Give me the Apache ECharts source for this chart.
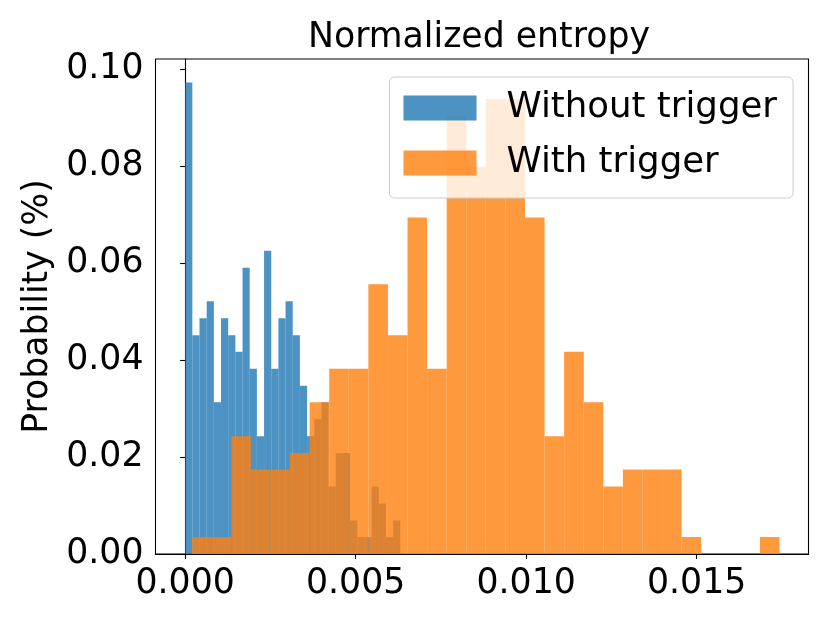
<!DOCTYPE html>
<html>
<head>
<meta charset="utf-8">
<script src="https://cdn.jsdelivr.net/npm/echarts@6/dist/echarts.min.js"></script>
<style>
  html, body { margin: 0; padding: 0; background: #fff; }
  #chart { width: 830px; height: 623px; }
</style>
</head>
<body>
<div id="chart"></div>
<script>
// histogram values (probability per bin, 30 bins each)
const withoutTrigger = [0.0972, 0.0451, 0.0486, 0.0521, 0.0313, 0.0486, 0.0451, 0.0417, 0.0590, 0.0382,
                        0.0243, 0.0625, 0.0382, 0.0486, 0.0521, 0.0451, 0.0347, 0.0243, 0.0278, 0.0313,
                        0.0139, 0.0208, 0.0208, 0.0069, 0.0035, 0.0035, 0.0139, 0.0104, 0.0035, 0.0069];
const withTrigger = [0.0035, 0.0035, 0.0243, 0.0174, 0.0174, 0.0208, 0.0313, 0.0382, 0.0382, 0.0556,
                     0.0451, 0.0694, 0.0382, 0.0903, 0.0799, 0.0938, 0.0938, 0.0694, 0.0243, 0.0417,
                     0.0313, 0.0139, 0.0174, 0.0174, 0.0174, 0.0035, 0, 0, 0, 0.0035];
// range covered by the bins of each histogram
const withoutRange = [0, 0.00631];
const withRange = [0.000205, 0.01743];
const xTicks = [0, 0.005, 0.010, 0.015];
const yTicks = [0, 0.02, 0.04, 0.06, 0.08, 0.10];
const seriesNames = ['Without trigger', 'With trigger'];
const colors = ['#1f77b4', '#ff7f0e'];

const FONT = 'DejaVu Sans';
const FS = 34.7;

function toBins(values, range) {
  const w = (range[1] - range[0]) / values.length;
  return values.map((v, i) => [range[0] + i * w, range[0] + (i + 1) * w, v]);
}

function histItem(params, api) {
  const top = api.coord([api.value(0), api.value(2)]);
  const bottom = api.coord([api.value(1), 0]);
  return {
    type: 'rect',
    shape: { x: top[0], y: top[1], width: bottom[0] - top[0], height: bottom[1] - top[1] },
    style: { fill: colors[params.seriesIndex], opacity: 0.8 }
  };
}

const chart = echarts.init(document.getElementById('chart'));
chart.setOption({
  animation: false,
  backgroundColor: '#fff',
  graphic: [{
    type: 'text', left: 482 - 174, top: 20,
    style: { text: 'Normalized entropy', fontFamily: FONT, fontSize: FS, fill: '#000' }
  }],
  grid: { left: 155.5, right: 21.5, top: 59, bottom: 69, show: true, borderColor: '#000', borderWidth: 1.1 },
  legend: {
    orient: 'vertical', right: 37, top: 77,
    icon: 'rect', itemWidth: 73, itemHeight: 25, itemGap: 19,
    padding: [13, 16, 17, 14],
    backgroundColor: 'rgba(255,255,255,0.8)', borderColor: '#cccccc', borderWidth: 1, borderRadius: 5,
    textStyle: { fontFamily: FONT, fontSize: 35.6, color: '#000', padding: [0, 0, 0, 25] },
    data: seriesNames
  },
  xAxis: {
    type: 'value', min: -0.00087, max: 0.01828,
    splitLine: { show: false },
    axisLine: { lineStyle: { color: '#000', width: 1.1 } },
    axisTick: { customValues: xTicks, length: 5, lineStyle: { color: '#000', width: 1.1 } },
    axisLabel: { customValues: xTicks, margin: 12, fontFamily: FONT, fontSize: FS, color: '#000',
                 formatter: v => v.toFixed(3) }
  },
  yAxis: {
    type: 'value', min: 0, max: 0.10206,
    name: 'Probability (%)', nameLocation: 'middle', nameGap: 100,
    nameTextStyle: { fontFamily: FONT, fontSize: FS, color: '#000' },
    splitLine: { show: false },
    axisLine: { lineStyle: { color: '#000', width: 1.1 } },
    axisTick: { customValues: yTicks, length: 5, lineStyle: { color: '#000', width: 1.1 } },
    axisLabel: { customValues: yTicks, margin: 12, fontFamily: FONT, fontSize: FS, color: '#000',
                 formatter: v => v.toFixed(2) }
  },
  series: [
    {
      name: seriesNames[0], type: 'custom', renderItem: histItem,
      itemStyle: { color: colors[0], opacity: 0.8 },
      encode: { x: [0, 1], y: 2 },
      data: toBins(withoutTrigger, withoutRange)
    },
    {
      name: seriesNames[1], type: 'custom', renderItem: histItem,
      itemStyle: { color: colors[1], opacity: 0.8 },
      encode: { x: [0, 1], y: 2 },
      data: toBins(withTrigger, withRange)
    }
  ]
});
</script>
</body>
</html>
